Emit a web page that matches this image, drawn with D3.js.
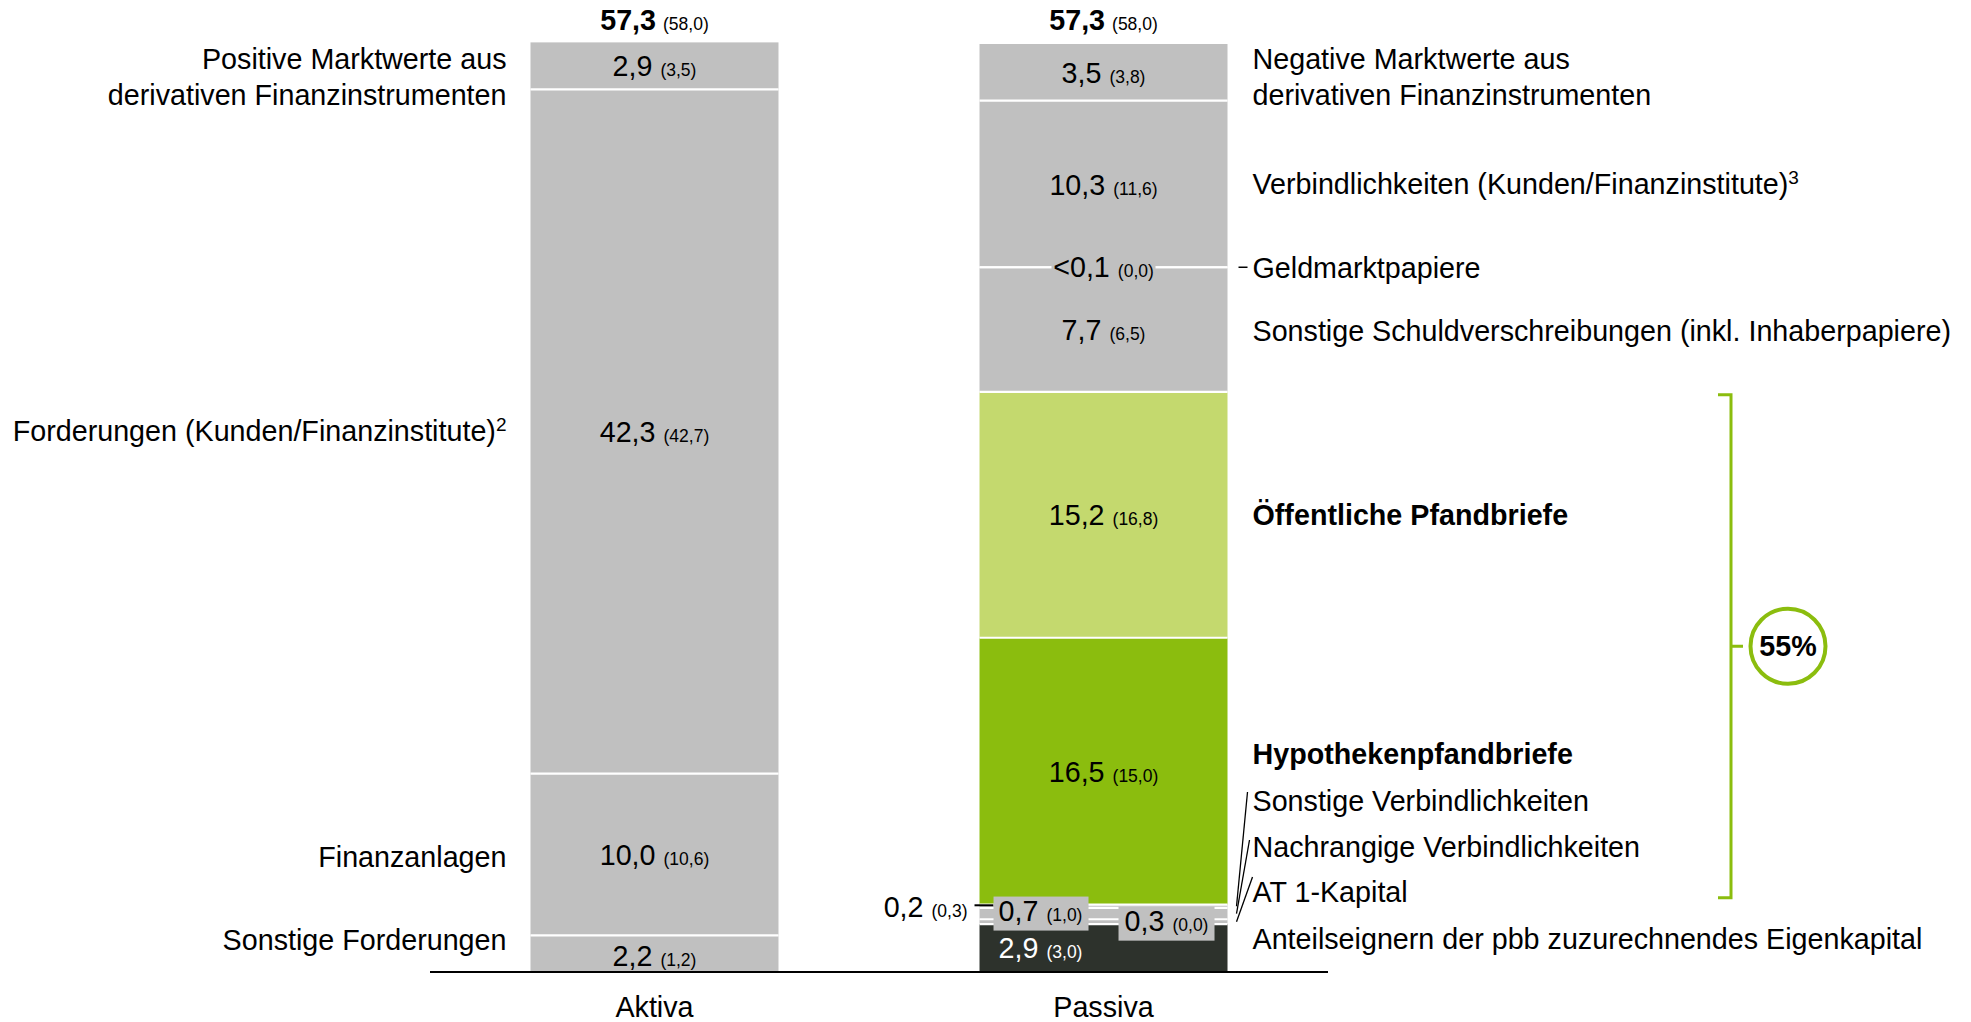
<!DOCTYPE html>
<html>
  <head>
    <meta http-equiv="Content-Type" content="text/html;charset=utf-8"/>
    <title>Bilanzstruktur</title>
    <script src="https://cdn.jsdelivr.net/npm/d3@7/dist/d3.min.js"></script>
    <style>
      body { margin: 0; background: #fff; overflow: hidden; }
      svg { display: block; }
      text { font-family: "Liberation Sans", Arial, sans-serif; fill: #000; }
    </style>
  </head>
  <body>
    <svg id="target"></svg>
  </body>
  <script>
    // --- data (Mrd. EUR, Vorjahr in Klammern)
    var categories = [ "Aktiva", "Passiva" ];
    var totals = [ 57.3, 57.3 ];
    var totalsPrev = [ 58.0, 58.0 ];

    var aktivaNames = [ [ "Positive Marktwerte aus", "derivativen Finanzinstrumenten" ],
                        [ "Forderungen (Kunden/Finanzinstitute)", "2" ],
                        [ "Finanzanlagen" ],
                        [ "Sonstige Forderungen" ] ];
    var aktivaValues = [ 2.9, 42.3, 10.0, 2.2 ];
    var aktivaPrev = [ 3.5, 42.7, 10.6, 1.2 ];

    var passivaNames = [ [ "Negative Marktwerte aus", "derivativen Finanzinstrumenten" ],
                         [ "Verbindlichkeiten (Kunden/Finanzinstitute)", "3" ],
                         [ "Geldmarktpapiere" ],
                         [ "Sonstige Schuldverschreibungen (inkl. Inhaberpapiere)" ],
                         [ "Öffentliche Pfandbriefe" ],
                         [ "Hypothekenpfandbriefe" ],
                         [ "Sonstige Verbindlichkeiten" ],
                         [ "Nachrangige Verbindlichkeiten" ],
                         [ "AT 1-Kapital" ],
                         [ "Anteilseignern der pbb zuzurechnendes Eigenkapital" ] ];
    var passivaValues = [ 3.5, 10.3, 0.0, 7.7, 15.2, 16.5, 0.2, 0.7, 0.3, 2.9 ];
    var passivaPrev = [ 3.8, 11.6, 0.0, 6.5, 16.8, 15.0, 0.3, 1.0, 0.0, 3.0 ];
    var passivaValueText = [ null, null, "<0,1", null, null, null, null, null, null, null ];
    var pfandbriefShare = "55%";

    // --- layout
    var width = 1971, height = 1022;
    var grey = "#c0c0c0", lightGreen = "#c4d96e", green = "#8bbd0e", dark = "#2d322c";
    var passivaColors = [ grey, grey, grey, grey, lightGreen, green, grey, grey, grey, dark ];
    var boldLabels = [ 4, 5 ];
    var fs = "28.7px", fsSmall = "17.5px";
    // label positions of the side texts (pixel y)
    var aktivaLabelY = [ 78, 431, 857, 940 ];
    var passivaLabelY = [ 78, 184, 268, 331, 515, 754, 801, 847, 892, 939 ];

    var svg = d3.select( "#target" ).attr( "width", width ).attr( "height", height );

    var xScale = d3.scaleBand().domain( categories ).range( [ 430, 1328 ] )
      .paddingInner( 0.4477 ).paddingOuter( 0.2238 );
    var yScale = d3.scaleLinear().domain( [ 0, d3.max( totals ) ] ).range( [ 971, 44 ] );
    var bw = xScale.bandwidth();
    var fmt = v => d3.format( ".1f" )( v ).replace( ".", "," );

    function stack( values ) {
      var out = [], top = d3.sum( values );
      values.forEach( function( v, i ) {
        out.push( { i: i, v: v, y0: top, y1: top - v } );
        top -= v;
      } );
      return out;
    }
    var aStack = stack( aktivaValues );
    var pStack = stack( passivaValues );
    var ax = xScale( "Aktiva" ), px = xScale( "Passiva" );
    var aMid = ax + bw / 2, pMid = px + bw / 2;

    // bars
    svg.append( "g" ).selectAll( "rect" ).data( aStack ).enter().append( "rect" )
      .attr( "x", ax ).attr( "width", bw )
      .attr( "y", d => yScale( d.y0 ) ).attr( "height", d => yScale( d.y1 ) - yScale( d.y0 ) )
      .attr( "fill", grey );
    svg.append( "g" ).selectAll( "rect" ).data( pStack ).enter().append( "rect" )
      .attr( "x", px ).attr( "width", bw )
      .attr( "y", d => yScale( d.y0 ) ).attr( "height", d => yScale( d.y1 ) - yScale( d.y0 ) )
      .attr( "fill", d => passivaColors[ d.i ] );

    // white separators
    function separators( st, x0 ) {
      svg.append( "g" ).selectAll( "line" ).data( st.slice( 1 ) ).enter().append( "line" )
        .attr( "x1", x0 ).attr( "x2", x0 + bw )
        .attr( "y1", d => yScale( d.y0 ) ).attr( "y2", d => yScale( d.y0 ) )
        .attr( "stroke", "#fff" ).attr( "stroke-width", 2.2 );
    }
    separators( aStack, ax );
    separators( pStack, px );

    // baseline
    svg.append( "line" ).attr( "x1", 430 ).attr( "x2", 1328 )
      .attr( "y1", yScale( 0 ) + 1 ).attr( "y2", yScale( 0 ) + 1 )
      .attr( "stroke", "#000" ).attr( "stroke-width", 2 );

    // category labels
    svg.selectAll( ".cat" ).data( categories ).enter().append( "text" )
      .attr( "x", d => xScale( d ) + bw / 2 ).attr( "y", yScale( 0 ) + 36 )
      .attr( "dy", "0.35em" ).attr( "text-anchor", "middle" )
      .style( "font-size", fs ).text( d => d );

    // totals
    categories.forEach( function( c, i ) {
      var t = svg.append( "text" ).attr( "x", xScale( c ) + bw / 2 ).attr( "y", yScale( totals[ i ] ) - 20 )
        .attr( "dy", "0.35em" ).attr( "text-anchor", "middle" );
      t.append( "tspan" ).style( "font-size", fs ).style( "font-weight", "bold" ).text( fmt( totals[ i ] ) );
      t.append( "tspan" ).attr( "dx", 7 ).style( "font-size", fsSmall ).text( "(" + fmt( totalsPrev[ i ] ) + ")" );
    } );

    function valueLabel( x, y, val, prev, color, anchor ) {
      var t = svg.append( "text" ).attr( "x", x ).attr( "y", y + 5 ).attr( "dy", "0.35em" )
        .attr( "text-anchor", anchor || "middle" ).style( "fill", color || "#000" );
      t.append( "tspan" ).style( "font-size", fs ).text( val );
      t.append( "tspan" ).attr( "dx", 8 ).style( "font-size", fsSmall ).style( "fill", color || "#000" )
        .text( "(" + prev + ")" );
      return t;
    }

    // aktiva values
    aStack.forEach( function( d ) {
      var cy = ( yScale( d.y0 ) + yScale( d.y1 ) ) / 2 + ( d.i === 3 ? 2 : 0 );
      valueLabel( aMid, cy, fmt( d.v ), fmt( aktivaPrev[ d.i ] ) );
    } );

    // passiva values
    pStack.forEach( function( d ) {
      var cy = ( yScale( d.y0 ) + yScale( d.y1 ) ) / 2;
      var txt = passivaValueText[ d.i ] || fmt( d.v ), prev = fmt( passivaPrev[ d.i ] );
      if ( d.i === 2 ) {
        svg.append( "rect" ).attr( "x", pMid - 52 ).attr( "y", cy - 3 ).attr( "width", 104 ).attr( "height", 6 ).attr( "fill", grey );
        valueLabel( pMid, cy - 1, txt, prev );
      } else if ( d.i === 6 ) {
        valueLabel( px - 12, cy, txt, prev, "#000", "end" );
        svg.append( "line" ).attr( "x1", px - 5 ).attr( "x2", px + 14 ).attr( "y1", cy - 1 ).attr( "y2", cy - 1 )
          .attr( "stroke", "#000" ).attr( "stroke-width", 2 );
      } else if ( d.i === 7 ) {
        svg.append( "rect" ).attr( "x", px + 14 ).attr( "y", cy - 17 ).attr( "width", 95 ).attr( "height", 34 ).attr( "fill", grey );
        valueLabel( px + 61, cy - 3, txt, prev );
      } else if ( d.i === 8 ) {
        svg.append( "rect" ).attr( "x", px + 139 ).attr( "y", cy - 15 ).attr( "width", 96 ).attr( "height", 34 ).attr( "fill", grey );
        valueLabel( px + 187, cy - 1, txt, prev );
      } else if ( d.i === 9 ) {
        valueLabel( px + 61, cy, txt, prev, "#fff" );
      } else {
        valueLabel( pMid, cy, txt, prev );
      }
    } );

    // side labels
    function sideLabel( x, y, name, anchor, bold ) {
      var t = svg.append( "text" ).attr( "x", x ).attr( "y", y ).attr( "text-anchor", anchor )
        .style( "font-size", fs ).style( "font-weight", bold ? "bold" : "normal" );
      if ( name.length === 2 && name[ 1 ].length === 1 ) {
        t.attr( "dy", "0.35em" ).text( name[ 0 ] );
        t.append( "tspan" ).attr( "dy", -10 ).style( "font-size", "19px" ).text( name[ 1 ] );
      } else if ( name.length === 2 ) {
        t.append( "tspan" ).attr( "x", x ).attr( "dy", "-0.3em" ).text( name[ 0 ] );
        t.append( "tspan" ).attr( "x", x ).attr( "dy", "1.24em" ).text( name[ 1 ] );
      } else {
        t.attr( "dy", "0.35em" ).text( name[ 0 ] );
      }
    }
    aktivaNames.forEach( ( n, i ) => sideLabel( ax - 24, aktivaLabelY[ i ], n, "end" ) );
    passivaNames.forEach( ( n, i ) => sideLabel( px + bw + 25, passivaLabelY[ i ], n, "start", boldLabels.indexOf( i ) >= 0 ) );

    // leader lines
    var lx = px + bw + 25;
    svg.append( "line" ).attr( "x1", px + bw + 11 ).attr( "x2", px + bw + 20 )
      .attr( "y1", yScale( pStack[ 2 ].y0 ) ).attr( "y2", yScale( pStack[ 2 ].y0 ) )
      .attr( "stroke", "#000" ).attr( "stroke-width", 1.5 );
    [ [ 6, -4, -9 ], [ 7, -2, -7 ], [ 8, 1, -15 ] ].forEach( function( o ) {
      var d = pStack[ o[ 0 ] ];
      svg.append( "line" )
        .attr( "x1", lx + o[ 1 ] - 1 ).attr( "y1", passivaLabelY[ o[ 0 ] ] + o[ 2 ] )
        .attr( "x2", px + bw + 9 ).attr( "y2", ( yScale( d.y0 ) + yScale( d.y1 ) ) / 2 )
        .attr( "stroke", "#000" ).attr( "stroke-width", 1.3 );
    } );

    // Pfandbrief bracket
    var bTop = yScale( pStack[ 4 ].y0 ) + 3, bBot = yScale( pStack[ 5 ].y1 ) - 7, bMid = ( bTop + bBot ) / 2;
    var bx = 1731;
    svg.append( "path" )
      .attr( "d", "M" + ( bx - 13 ) + "," + bTop + "H" + bx + "V" + bBot + "H" + ( bx - 13 ) + "M" + bx + "," + bMid + "H" + ( bx + 12 ) )
      .attr( "fill", "none" ).attr( "stroke", green ).attr( "stroke-width", 3 );
    svg.append( "circle" ).attr( "cx", bx + 57 ).attr( "cy", bMid ).attr( "r", 37.5 )
      .attr( "fill", "#fff" ).attr( "stroke", green ).attr( "stroke-width", 4 );
    svg.append( "text" ).attr( "x", bx + 57 ).attr( "y", bMid ).attr( "dy", "0.35em" ).attr( "text-anchor", "middle" )
      .style( "font-size", fs ).style( "font-weight", "bold" ).text( pfandbriefShare );
  </script>
</html>
